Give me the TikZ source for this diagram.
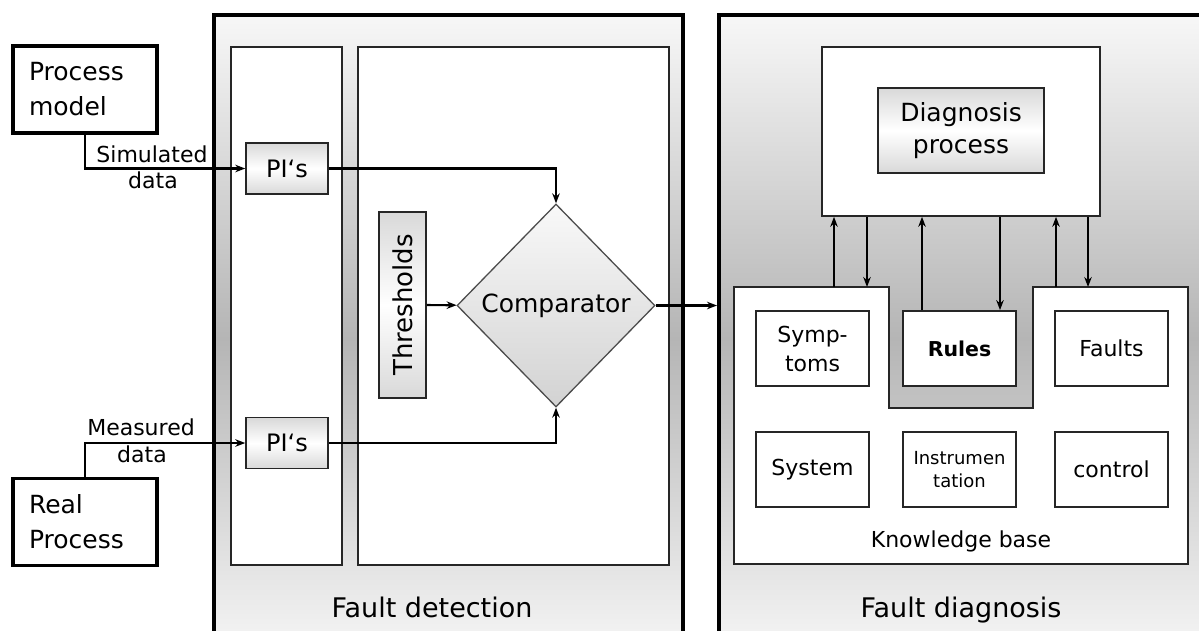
\documentclass[tikz,border=0pt]{standalone}
\usepackage{fontspec}
\setmainfont{DejaVu Sans}
\usetikzlibrary{arrows.meta,shapes.geometric}
\begin{document}
\begin{tikzpicture}[x=1pt,y=-1pt,
  panel/.style={draw=black, line width=4pt, top color=gray!6, bottom color=gray!6, middle color=gray!58, inner sep=0pt},
  bigbox/.style={draw=black, line width=3.5pt, fill=white, inner sep=0pt, font=\fontsize{25}{35}\selectfont},
  colbox/.style={draw=black!85, line width=1.8pt, fill=white, inner sep=0pt},
  graybox/.style={draw=black!85, line width=1.5pt, top color=gray!30, bottom color=gray!30, middle color=white, inner sep=0pt},
  kbbox/.style={draw=black!85, line width=1.8pt, fill=white, inner sep=0pt, minimum width=113, minimum height=75, align=center, font=\fontsize{22}{29}\selectfont},
  lbl/.style={inner sep=0pt, font=\fontsize{22}{26}\selectfont},
  arr/.style={line width=2.2pt, -{Stealth[length=10pt,width=7.5pt]}}
]
\useasboundingbox (0,0) rectangle (1199,630);
\clip (0,0) rectangle (1199,630);
\fill[white] (0,0) rectangle (1199,630);

% panels
\node[panel, minimum width=469, minimum height=647, anchor=north west] (fd) at (212,13) {};
\node[panel, minimum width=500, minimum height=647, anchor=north west] (fdiag) at (717,13) {};

% fault detection columns
\node[colbox, minimum width=111, minimum height=518, anchor=north west] (colL) at (230,46) {};
\node[colbox, minimum width=311, minimum height=518, anchor=north west] (colR) at (357,46) {};

% sources
\node[bigbox, minimum width=144, minimum height=87, text width=112, align=left] (pm) at (85,89.5) {Process\\model};
\node[bigbox, minimum width=144, minimum height=87, text width=112, align=left] (rp) at (85,522) {Real\\Process};

% PI boxes
\node[graybox, minimum width=82, minimum height=51, font=\fontsize{24}{28}\selectfont] (pi1) at (287,168.5) {PI‘s};
\node[graybox, minimum width=82, minimum height=51, font=\fontsize{24}{28}\selectfont] (pi2) at (287,443) {PI‘s};

% thresholds and comparator
\node[graybox, minimum width=186, minimum height=47, rotate=90, font=\fontsize{26}{30}\selectfont] (thr) at (402.5,305) {Thresholds};
\node[diamond, aspect=1, draw=gray!60!black, line width=1.3pt, top color=gray!5, bottom color=gray!35, minimum width=198, minimum height=203, inner sep=0pt, font=\fontsize{25}{30}\selectfont] (comp) at (556,305.5) {Comparator};

% data labels
\node[lbl, anchor=base] (simL) at (152,162) {Simulated};
\node[lbl, anchor=base] (simD) at (153,188) {data};
\node[lbl, anchor=base] (meaL) at (141,435) {Measured};
\node[lbl, anchor=base] (meaD) at (142,462) {data};

% connectors left
\draw[arr] (pm.south) |- (pi1.west);
\draw[arr] (rp.north) |- (pi2.west);
\draw[arr] (pi1.east) -| (comp.north);
\draw[arr] (pi2.east) -| (comp.south);
\draw[arr] (thr) -- (comp);
\draw[arr] (comp.east) -- (comp.east -| fdiag.west);

% diagnosis
\node[colbox, minimum width=278, minimum height=169, anchor=north west] (dbox) at (821,46) {};
\node[graybox, minimum width=166, minimum height=85, align=center, font=\fontsize{25}{32}\selectfont] (dp) at (961,130.5) {Diagnosis\\process};

% knowledge base
\draw[colbox] (734,287) -- (889,287) -- (889,408) -- (1033,408) -- (1033,287) -- (1188,287) -- (1188,564) -- (734,564) -- cycle;
\coordinate (kbA) at (834,287);
\coordinate (kbB) at (867,287);
\coordinate (kbC) at (1056,287);
\coordinate (kbD) at (1088,287);

\node[kbbox] (sym) at (812.5,348.5) {Symp-\\toms};
\node[kbbox, font=\fontsize{20.5}{26}\selectfont\bfseries] (rules) at (959.5,348.5) {Rules};
\node[kbbox] (faults) at (1111.5,348.5) {Faults};
\node[kbbox] (sys) at (812.5,469.5) {System};
\node[kbbox, font=\fontsize{18}{23}\selectfont] (instr) at (959.5,469.5) {Instrumen\\tation};
\node[kbbox] (ctrl) at (1111.5,469.5) {control};
\node[lbl, anchor=base] (kbl) at (961,547) {Knowledge base};

% vertical arrows
\draw[arr] (kbA) -- (kbA |- dbox.south);
\draw[arr] (kbB |- dbox.south) -- (kbB);
\draw[arr] ([xshift=-37.5pt]rules.north) -- ([xshift=-37.5pt]rules.north |- dbox.south);
\draw[arr] ([xshift=40.5pt]rules.north |- dbox.south) -- ([xshift=40.5pt]rules.north);
\draw[arr] (kbC) -- (kbC |- dbox.south);
\draw[arr] (kbD |- dbox.south) -- (kbD);

% panel titles
\node[inner sep=0pt, anchor=base, font=\fontsize{27}{32}\selectfont] (fdl) at (432,617) {Fault detection};
\node[inner sep=0pt, anchor=base, font=\fontsize{27}{32}\selectfont] (fdgl) at (961,617) {Fault diagnosis};
\end{tikzpicture}
\end{document}
